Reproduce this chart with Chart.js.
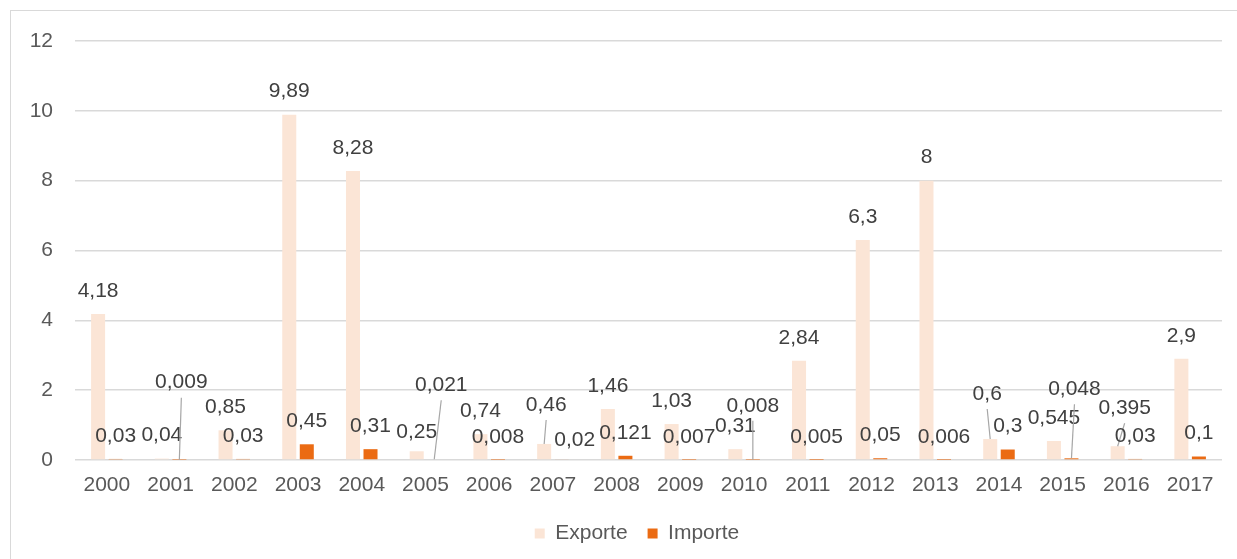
<!DOCTYPE html>
<html><head><meta charset="utf-8">
<script src="https://cdn.jsdelivr.net/npm/chart.js@4/dist/chart.umd.min.js"></script>
<style>
html,body{margin:0;padding:0;background:#fff;}
#wrap{position:relative;width:1237px;height:559px;overflow:hidden;}
#frame{position:absolute;left:10px;top:10px;width:1260px;height:570px;border:1px solid #D9D9D9;box-sizing:border-box;}
canvas{position:absolute;left:0;top:0;}
</style></head><body>
<div id="wrap"><div id="frame"></div><canvas id="c" width="1237" height="559"></canvas></div>
<script>
const categories = ['2000','2001','2002','2003','2004','2005','2006','2007','2008','2009','2010','2011','2012','2013','2014','2015','2016','2017'];
const exporte = [4.18,0.04,0.85,9.89,8.28,0.25,0.74,0.46,1.46,1.03,0.31,2.84,6.3,8,0.6,0.545,0.395,2.9];
const importe = [0.03,0.009,0.03,0.45,0.31,0.021,0.008,0.02,0.121,0.007,0.008,0.005,0.05,0.006,0.3,0.048,0.03,0.1];
const seriesNames = ['Exporte','Importe'];
const yMin = 0, yMax = 12, yStep = 2;

// manual label shifts (dx, dy, leader line) per dataset index, like dragged Excel labels
const exporteLabelShift = {5:[0,4,false],7:[2,-16,true],14:[-3,-22,true],16:[7,-15,true]};
const importeLabelShift = {1:[2,-54,true],5:[7,-51,true],7:[13,4,false],10:[0,-31,true],15:[3,-46,true]};
const labelShifts = [exporteLabelShift, importeLabelShift];

const FONT = '"Liberation Sans", Arial, sans-serif';
const AXIS_COLOR = '#595959';
const LABEL_COLOR = '#404040';

const dataLabels = {
  id: 'dataLabels',
  afterLayout(chart) {
    // Excel centres the legend in a slightly wider chart frame
    if (chart.legend) { chart.legend.left += 12; chart.legend.right += 12; }
  },
  afterDatasetsDraw(chart) {
    const ctx = chart.ctx;
    ctx.save();
    ctx.font = '21px ' + FONT;
    ctx.textAlign = 'center';
    ctx.textBaseline = 'middle';
    chart.data.datasets.forEach((ds, di) => {
      const meta = chart.getDatasetMeta(di);
      meta.data.forEach((bar, i) => {
        const v = ds.data[i];
        const txt = String(v).replace('.', ',');
        const sh = labelShifts[di][i] || [0,0,false];
        const lx = bar.x + sh[0];
        const ly = bar.y - 23 + sh[1];
        if (sh[2]) {
          ctx.strokeStyle = '#A6A6A6';
          ctx.lineWidth = 1.2;
          ctx.beginPath();
          ctx.moveTo(lx, ly + 15);
          ctx.lineTo(bar.x, bar.y);
          ctx.stroke();
        }
        ctx.fillStyle = LABEL_COLOR;
        ctx.fillText(txt, lx, ly);
      });
    });
    ctx.restore();
  }
};

new Chart(document.getElementById('c'), {
  type: 'bar',
  data: {
    labels: categories,
    datasets: [
      {label: seriesNames[0], data: exporte, backgroundColor: '#FBE5D6', borderWidth: 0, barPercentage: 0.8, categoryPercentage: 0.55},
      {label: seriesNames[1], data: importe, backgroundColor: '#EB6B13', borderWidth: 0, barPercentage: 0.8, categoryPercentage: 0.55}
    ]
  },
  options: {
    responsive: false,
    animation: false,
    devicePixelRatio: 1,
    layout: {padding: {left: 28, right: 15, top: 41, bottom: 5}},
    plugins: {
      legend: {
        position: 'bottom',
        labels: {boxWidth: 10, boxHeight: 10, padding: 20, color: AXIS_COLOR, font: {family: FONT, size: 21}}
      },
      tooltip: {enabled: false}
    },
    scales: {
      x: {
        grid: {display: false},
        border: {display: false},
        ticks: {color: AXIS_COLOR, font: {family: FONT, size: 21}, padding: 5, maxRotation: 0, autoSkip: false},
        afterFit(s) { s.height = 43; }
      },
      y: {
        min: yMin, max: yMax,
        ticks: {stepSize: yStep, color: AXIS_COLOR, font: {family: FONT, size: 21}, padding: 22},
        grid: {color: '#D9D9D9', lineWidth: 1.5, drawTicks: false},
        border: {display: false},
        afterFit(s) { s.width = 47; }
      }
    }
  },
  plugins: [dataLabels]
});
</script>
</body></html>
